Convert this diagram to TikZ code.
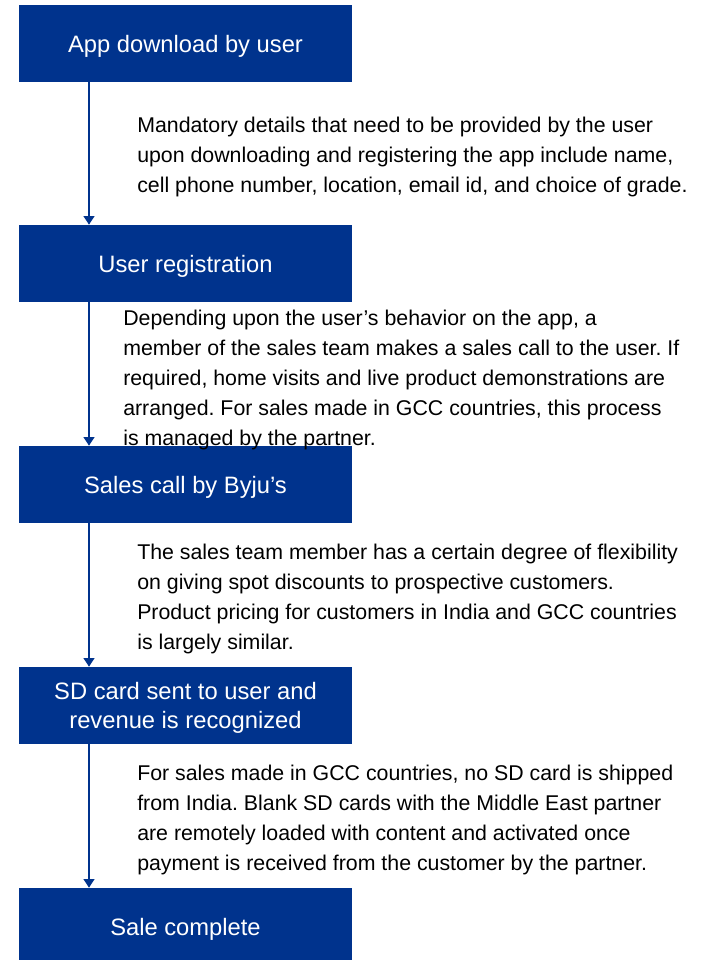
\documentclass[tikz,border=0pt]{standalone}
\usepackage{fontspec}
\setmainfont{Liberation Sans}
\frenchspacing
\usetikzlibrary{arrows.meta}
\definecolor{flowblue}{HTML}{00338D}
\begin{document}
\begin{tikzpicture}[x=0.75pt,y=-0.75pt,
  % text height/depth chosen so the capitals sit centred in each box
  stagebox/.style={rectangle, fill=flowblue, text=white, inner sep=0pt,
    minimum width=249.75pt, minimum height=57.75pt, align=center,
    text height=12.75pt, text depth=0pt,
    font=\fontsize{17.8}{21.4}\selectfont},
  twoline/.style={text height=33.75pt},
  % notes are placed by the baseline of their last line
  note/.style={anchor=base west, inner sep=0pt, align=left, text=black,
    font=\fontsize{16}{22.5}\selectfont},
  flowarrow/.style={draw=flowblue, line width=1.5pt,
    -{Triangle[width=8pt,length=6.5pt]}}]
\useasboundingbox (0,0) rectangle (714,960);

% process stages
\node[stagebox] (s1) at (185.5,43.5)  {App download by user};
\node[stagebox] (s2) at (185.5,263.5) {User registration};
\node[stagebox] (s3) at (185.5,484.5) {Sales call by Byju’s};
\node[stagebox, twoline] (s4) at (185.5,705.5) {SD card sent to user and\\revenue is recognized};
\node[stagebox] (s5) at (185.5,926.5) {Sale complete};

% vertical flow line
\coordinate (ax) at (89,0);
\draw[flowarrow] (s1.south -| ax) -- (s2.north -| ax);
\draw[flowarrow] (s2.south -| ax) -- (s3.north -| ax);
\draw[flowarrow] (s3.south -| ax) -- (s4.north -| ax);
\draw[flowarrow] (s4.south -| ax) -- (s5.north -| ax);

% explanatory notes
\node[note] (n1) at (137,192) {Mandatory details that need to be provided by the user\\upon downloading and registering the app include name,\\cell phone number, location, email id, and choice of grade.};
\node[note] (n2) at (123,445) {Depending upon the user’s behavior on the app, a\\member of the sales team makes a sales call to the user. If\\required, home visits and live product demonstrations are\\arranged. For sales made in GCC countries, this process\\is managed by the partner.};
\node[note] (n3) at (137,649) {The sales team member has a certain degree of flexibility\\on giving spot discounts to prospective customers.\\Product pricing for customers in India and GCC countries\\is largely similar.};
\node[note] (n4) at (137,870) {For sales made in GCC countries, no SD card is shipped\\from India. Blank SD cards with the Middle East partner\\are remotely loaded with content and activated once\\payment is received from the customer by the partner.};
\end{tikzpicture}
\end{document}
